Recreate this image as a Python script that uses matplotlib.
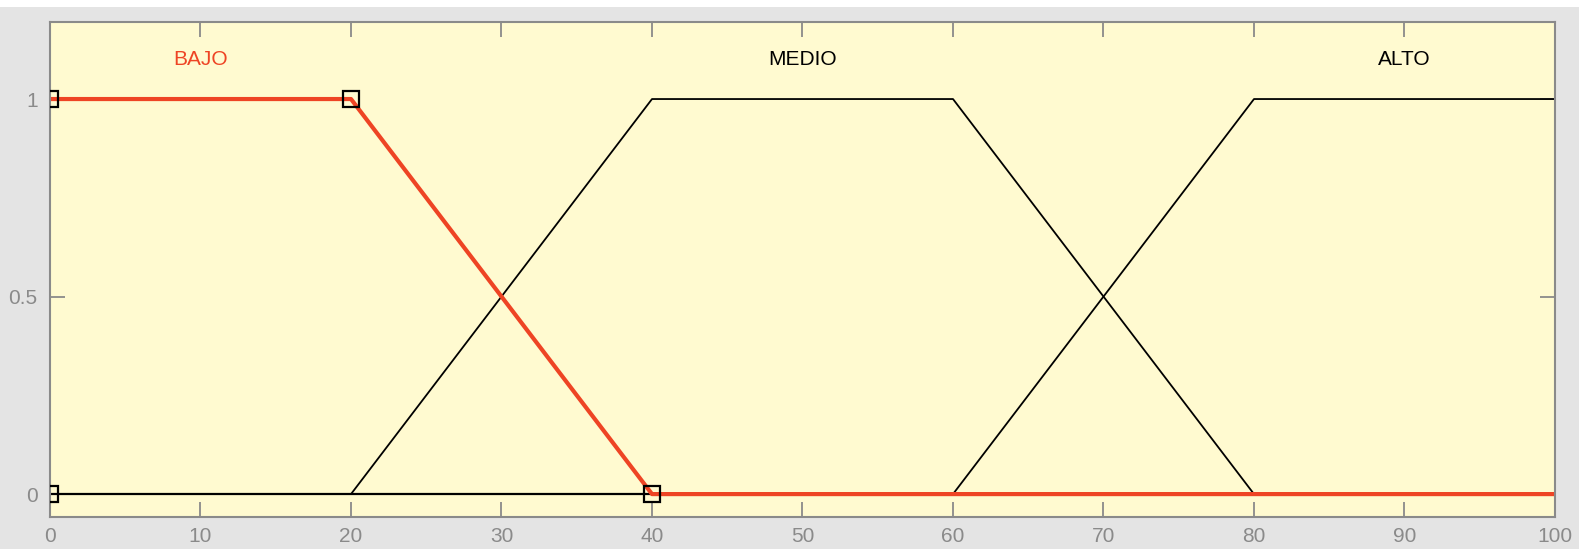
import matplotlib.pyplot as plt
from matplotlib.patches import Rectangle

plt.rcParams['font.family'] = ['Liberation Sans', 'DejaVu Sans']

# universe of discourse and membership functions (trapezoids)
x = [0, 20, 40, 60, 80, 100]
bajo = [1, 1, 0, 0, 0, 0]
medio = [0, 0, 1, 1, 0, 0]
alto = [0, 0, 0, 0, 1, 1]

# trapmf parameters of the selected set (BAJO)
bajo_params = [0, 0, 20, 40]

names = ['BAJO', 'MEDIO', 'ALTO']
name_x = [10, 50, 90]

xticks = list(range(0, 101, 10))
yticks = [0, 0.5, 1]
yticklabels = ['0', '0.5', '1']

red = '#ee4424'
grey = '#8a8a8a'

fig = plt.figure(figsize=(15.79, 5.49), dpi=100, facecolor='#e4e4e4')
fig.patches.append(Rectangle((0, 1 - 7 / 549), 1, 7 / 549, transform=fig.transFigure,
                             facecolor='white', edgecolor='none'))
ax = fig.add_axes([50 / 1579, 1 - 517 / 549, 1505 / 1579, 495 / 549])
ax.set_facecolor('#fffad0')

ax.plot(x, medio, color='black', lw=1.3)
ax.plot(x, alto, color='black', lw=1.3)
ax.plot([0, 100], [0, 0], color='black', lw=1.6)
ax.plot(x, bajo, color=red, lw=3)

# corner markers of the selected function
mx = [bajo_params[0], bajo_params[1], bajo_params[2], bajo_params[3]]
my = [0, 1, 1, 0]
ax.plot(mx, my, ls='none', marker='s', ms=12, mfc='none', mec='black', mew=1.6,
        zorder=5)

for n, nx in zip(names, name_x):
    ax.text(nx, 1.1, n, ha='center', va='center', fontsize=15,
            color=red if n == 'BAJO' else 'black')

ax.set_xlim(0, 100)
ax.set_ylim(-0.058, 1.195)
ax.set_xticks(xticks)
ax.set_yticks(yticks)
ax.set_yticklabels(yticklabels)
ax.tick_params(direction='in', length=11, width=1.3, color=grey, labelcolor=grey,
               labelsize=15, top=True, right=True)
ax.tick_params(axis='x', pad=7)
ax.tick_params(axis='y', pad=9)
for s in ax.spines.values():
    s.set_color(grey)
    s.set_linewidth(1.5)

fig.savefig('out.png', dpi=100, facecolor=fig.get_facecolor())
